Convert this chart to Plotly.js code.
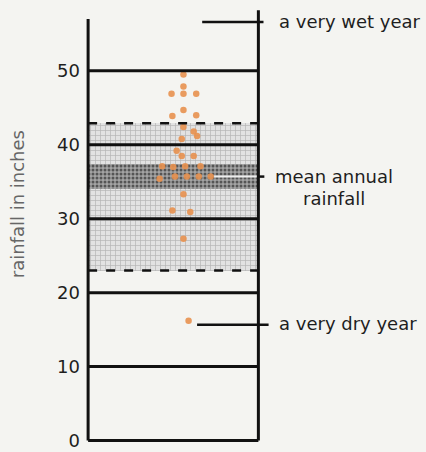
<!DOCTYPE html>
<html>
<head>
<meta charset="utf-8">
<script src="https://cdn.plot.ly/plotly-3.0.1.min.js"></script>
<style>html,body{margin:0;padding:0;background:#f4f4f1;}#chart{width:426px;height:452px;}</style>
</head>
<body>
<div id="chart"></div>
<script>
// Rainfall of individual years (inches) and their horizontal positions in the column
var yearX = [5.6, 5.6, 4.9, 5.6, 6.35, 5.6, 4.95, 6.35, 5.6, 6.2, 5.5, 6.4, 5.2, 5.5, 6.2,
             4.35, 5.0, 5.7, 6.6, 4.2, 5.1, 5.8, 6.5, 7.2, 5.6, 4.95, 6.0, 5.6, 5.9];
var yearRain = [49.5, 47.9, 46.9, 46.9, 46.9, 44.7, 43.9, 44.0, 42.4, 41.8, 40.8, 41.2, 39.2, 38.5, 38.5,
                37.1, 37.0, 37.1, 37.1, 35.4, 35.7, 35.7, 35.7, 35.7, 33.3, 31.1, 30.9, 27.3, 16.2];
var yTicks = [0, 10, 20, 30, 40, 50];
var normalRange = [23.0, 42.9];     // dashed band
var coreRange = [34.0, 37.4];       // darker band
var meanRain = 35.7;
var wetYear = 56.6;
var dryYear = 15.65;
var labels = {wet: "a very wet year", mean1: "mean annual", mean2: "rainfall", dry: "a very dry year", axis: "rainfall in inches"};

var xRange = [-0.3, 10.8];
function px(x) { return (x - xRange[0]) / (xRange[1] - xRange[0]); } // x-data -> paper fraction

var txt = {family: "DejaVu Sans, Arial, sans-serif", size: 18, color: "#1e1e1e"};

var traces = [
  {type: "bar", x: [5], y: [normalRange[1] - normalRange[0]], base: [normalRange[0]], width: [10],
   marker: {color: "#dcdcdc", line: {width: 0}, pattern: {shape: "+", fgcolor: "#b4b4b4", bgcolor: "#e2e2e2", size: 5, solidity: 0.25}},
   hoverinfo: "skip", showlegend: false},
  {type: "bar", x: [5], y: [coreRange[1] - coreRange[0]], base: [coreRange[0]], width: [10],
   marker: {color: "#959595", line: {width: 0}, pattern: {shape: ".", fgcolor: "#555555", bgcolor: "#a4a4a4", size: 4, solidity: 0.45}},
   hoverinfo: "skip", showlegend: false},
  {type: "scatter", mode: "markers", x: yearX, y: yearRain, cliponaxis: false,
   marker: {color: "#e8914f", size: 6.5, opacity: 0.9, line: {width: 0}},
   hoverinfo: "y", showlegend: false}
];

var shapes = [];
var blk = {color: "#111", width: 3};
yTicks.forEach(function (v) {
  shapes.push({type: "line", xref: "x", yref: "y", x0: 0, x1: 10, y0: v, y1: v, line: blk, layer: "above"});
});
normalRange.forEach(function (v) {
  shapes.push({type: "line", xref: "x", yref: "y", x0: 0, x1: 10, y0: v, y1: v, line: {color: "#111", width: 2.5, dash: "dash"}, layer: "above"});
});
shapes.push({type: "line", xref: "x", yref: "y", x0: 0, x1: 0, y0: 0, y1: 57, line: blk, layer: "above"});
shapes.push({type: "line", xref: "x", yref: "y", x0: 10, x1: 10, y0: 0, y1: 58.2, line: blk, layer: "above"});
shapes.push({type: "line", xref: "x", yref: "y", x0: 6.7, x1: 10.3, y0: wetYear, y1: wetYear, line: {color: "#111", width: 2.5}, layer: "above"});
shapes.push({type: "line", xref: "x", yref: "y", x0: 6.4, x1: 10.6, y0: dryYear, y1: dryYear, line: {color: "#111", width: 2.5}, layer: "above"});
shapes.push({type: "line", xref: "x", yref: "y", x0: 7.4, x1: 9.9, y0: meanRain, y1: meanRain, line: {color: "#eeeeee", width: 2}, layer: "above"});
shapes.push({type: "line", xref: "x", yref: "y", x0: 10, x1: 10.35, y0: meanRain, y1: meanRain, line: {color: "#111", width: 2.5}, layer: "above"});

var annotations = [
  {xref: "paper", yref: "y", x: px(11.1), y: wetYear + 0.1, text: labels.wet, showarrow: false, xanchor: "left", yanchor: "middle", font: txt},
  {xref: "paper", yref: "y", x: px(14.45), y: meanRain, text: labels.mean1, showarrow: false, xanchor: "center", yanchor: "middle", font: txt},
  {xref: "paper", yref: "y", x: px(14.45), y: meanRain - 3.0, text: labels.mean2, showarrow: false, xanchor: "center", yanchor: "middle", font: txt},
  {xref: "paper", yref: "y", x: px(11.1), y: dryYear + 0.2, text: labels.dry, showarrow: false, xanchor: "left", yanchor: "middle", font: txt},
  {xref: "paper", yref: "y", x: px(-4.1), y: 32.0, text: labels.axis, showarrow: false, textangle: -90, xanchor: "center", yanchor: "middle",
   font: {family: "DejaVu Sans, Arial, sans-serif", size: 18, color: "#666666"}}
];

var layout = {
  width: 426, height: 452,
  margin: {l: 83, r: 154, t: 8, b: 7, pad: 0},
  paper_bgcolor: "#f4f4f1", plot_bgcolor: "rgba(0,0,0,0)",
  barmode: "overlay", bargap: 0,
  xaxis: {range: xRange, visible: false, fixedrange: true},
  yaxis: {range: [-0.6, 58.5], tickvals: yTicks, ticktext: yTicks.map(String), showgrid: false, zeroline: false,
          showline: false, ticks: "", ticklabelstandoff: 2, ticklabeloverflow: "allow", tickfont: txt, fixedrange: true},
  shapes: shapes,
  annotations: annotations,
  showlegend: false
};

Plotly.newPlot("chart", traces, layout, {displayModeBar: false, staticPlot: true});
</script>
</body>
</html>
